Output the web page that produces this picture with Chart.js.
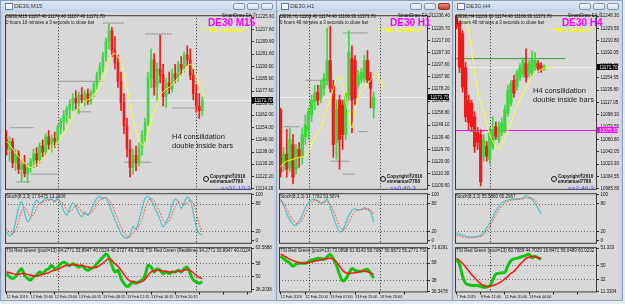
<!DOCTYPE html>
<html lang="en">
<head>
<meta charset="UTF-8" />
<title>DE30 M15 / H1 / H4</title>
<script src="https://cdn.jsdelivr.net/npm/chart.js"></script>
<style>
  body { margin:0; width:625px; height:304px; position:relative; overflow:hidden; background:#e6ecf4; font-family:'Liberation Sans', Arial, sans-serif; }
  .win { position:absolute; top:0; height:301px; background:#c4d3e6; border:1px solid #8fa0b8; box-sizing:border-box; }
  .bar { position:absolute; left:0; right:0; top:0; height:11px; background:linear-gradient(#dfe9f5,#c2d3e8); }
  .ico { position:absolute; left:4px; top:2px; width:6px; height:5px; border:1px solid #5a7cad; background:#f4f8fc; }
  .cap { position:absolute; left:13px; top:2px; font-size:6px; color:#3a3a3a; }
  .btn { position:absolute; top:2px; width:12px; height:7px; border:1px solid #8293aa; border-radius:2px; background:linear-gradient(#f6f8fb,#d3dce8); box-sizing:border-box; }
  .btn.x { background:linear-gradient(#eb8f7f,#c63f2b); border-color:#8a3a2e; }
  .client { position:absolute; top:12px; height:288px; background:#d8d8d8; }
  canvas { position:absolute; }
  .t { position:absolute; white-space:nowrap; line-height:1; }
  .clip { position:absolute; overflow:hidden; white-space:nowrap; }
  .info { font-size:4.5px; color:#111; }
  .big { font-size:10px; font-weight:bold; color:#ff00ff; }
  .yel { font-size:5.5px; font-weight:bold; color:#ffff00; }
  .note { font-size:7.5px; color:#1c1c1c; }
  .copy { font-size:4.6px; font-weight:bold; color:#111; }
  .timer { font-size:6px; color:#3c3cff; letter-spacing:0.3px; }
  .circ { position:absolute; width:6px; height:6px; border:1px solid #111; border-radius:50%; box-sizing:border-box; }
</style>
</head>
<body>
  <!-- window frames -->
  <div class="win" style="left:0;width:277px">
    <div class="bar"><div class="ico"></div><div class="cap">DE30,M15</div>
      <div class="btn" style="left:232px"></div><div class="btn" style="left:246px"></div><div class="btn" style="left:260px"></div></div>
  </div>
  <div class="win" style="left:276px;width:177px">
    <div class="bar"><div class="ico"></div><div class="cap">DE30,H1</div>
      <div class="btn" style="left:133px"></div><div class="btn" style="left:147px"></div><div class="btn x" style="left:161px"></div></div>
  </div>
  <div class="win" style="left:452px;width:171px">
    <div class="bar"><div class="ico"></div><div class="cap">DE30,H4</div>
      <div class="btn" style="left:126px"></div><div class="btn" style="left:140px"></div><div class="btn" style="left:154px"></div></div>
  </div>
  <div class="client" style="left:3px;width:271px"></div>
  <div class="client" style="left:278px;width:173px"></div>
  <div class="client" style="left:454px;width:166px"></div>

  <canvas id="m15Price" width="270" height="183" style="left:4px;top:11px"></canvas>
  <canvas id="m15Stoch" width="270" height="59" style="left:4px;top:189px"></canvas>
  <canvas id="m15Tsi" width="270" height="57" style="left:4px;top:243px"></canvas>
  <canvas id="h1Price" width="172" height="183" style="left:278px;top:11px"></canvas>
  <canvas id="h1Stoch" width="172" height="59" style="left:278px;top:189px"></canvas>
  <canvas id="h1Tsi" width="172" height="57" style="left:278px;top:243px"></canvas>
  <canvas id="h4Price" width="165" height="183" style="left:454px;top:11px"></canvas>
  <canvas id="h4Stoch" width="165" height="59" style="left:454px;top:189px"></canvas>
  <canvas id="h4Tsi" width="165" height="57" style="left:454px;top:243px"></canvas>

  <!-- M15 texts -->
  <div class="clip info" style="left:6px;top:14px;width:200px">DE30,M15  11167.40 11174.40 11167.40 11171.70</div>
  <div class="clip info" style="left:6px;top:19.5px;width:200px">0 hours 10 minutes a 3 seconds to close bar</div>
  <div class="t info" style="left:222px;top:14px">SmartDraw EA ©</div>
  <div class="t big" style="left:208px;top:18px">DE30 M15</div>
  <div class="t yel" style="left:202px;top:28px">* TMS S Method *</div>
  <div class="t note" style="left:172px;top:133px">H4 consilidation</div>
  <div class="t note" style="left:172px;top:141.5px">double inside bars</div>
  <div class="circ" style="left:203px;top:176px"></div>
  <div class="t copy" style="left:210px;top:175px">Copyright®2016</div>
  <div class="t copy" style="left:210px;top:180px">emmanuel7788</div>
  <div class="t timer" style="left:221px;top:185px">&gt;&gt;01:10:3</div>
  <div class="clip info" style="left:6px;top:193.5px;width:240px">Stoch(8,3,3) 17.6475 13.2306</div>
  <div class="clip info" style="left:6px;top:247.5px;width:245px">TSI Red Green (pool=13) 34.2771 33.8947 40.0124 40.2727 49.7330  TSI Red Green (Realtime) 34.2771 33.8947 40.0124 42.0382 48.2917</div>

  <!-- H1 texts -->
  <div class="clip info" style="left:280px;top:14px;width:140px">DE30,H1  11169.40 11174.40 11169.30 11171.70</div>
  <div class="clip info" style="left:280px;top:19.5px;width:140px">0 hours 40 minutes a 3 seconds to close bar</div>
  <div class="t info" style="left:398px;top:14px">SmartDraw EA ©</div>
  <div class="t big" style="left:390px;top:18px">DE30 H1</div>
  <div class="t yel" style="left:378px;top:28px">* TMS S Method *</div>
  <div class="circ" style="left:380px;top:176px"></div>
  <div class="t copy" style="left:387px;top:175px">Copyright®2016</div>
  <div class="t copy" style="left:387px;top:180px">emmanuel7788</div>
  <div class="t timer" style="left:390px;top:185px">&gt;&gt;0:40:3</div>
  <div class="clip info" style="left:280px;top:193.5px;width:145px">Stoch(8,3,3) 37.7783 53.5874</div>
  <div class="clip info" style="left:280px;top:247.5px;width:147px">TSI Red Green (pool=13) 73.0898 61.9143 58.7087 50.0873 56.2771  TSI Red Green (Realtime)</div>

  <!-- H4 texts -->
  <div class="clip info" style="left:456px;top:14px;width:120px">DE30,H4  11169.30 11174.40 11169.30 11171.70</div>
  <div class="clip info" style="left:456px;top:19.5px;width:120px">3 hours 40 minutes a 3 seconds to close bar</div>
  <div class="t info" style="left:568px;top:14px">SmartDraw EA ©</div>
  <div class="t big" style="left:562px;top:18px">DE30 H4</div>
  <div class="t yel" style="left:548px;top:28px">* TMS S Method *</div>
  <div class="t note" style="left:533px;top:87px">H4 consilidation</div>
  <div class="t note" style="left:533px;top:95.5px">double inside bars</div>
  <div class="circ" style="left:551px;top:176px"></div>
  <div class="t copy" style="left:558px;top:175px">Copyright®2016</div>
  <div class="t copy" style="left:558px;top:180px">emmanuel7788</div>
  <div class="t timer" style="left:568px;top:185px">&gt;&gt;2:40:3</div>
  <div class="clip info" style="left:456px;top:193.5px;width:140px">Stoch(8,3,3) 55.5860 60.2967</div>
  <div class="clip info" style="left:456px;top:247.5px;width:140px">TSI Red Green (pool=13) 60.7089 44.7029 19.8471 56.0489 60.0232  TSI Red Green (Re</div>

<script>
  // ---------- DE30 M15 ----------
  const m15Slots = 82;
  const m15Open  = [11146,11140,11145,11131,11137,11127,11130,11124,11128,11132,11137,11133,11142,11138,11148,11143,11147,11145,11154,11158,11162,11166,11169,11173,11170,11175,11172,11176,11171,11177,11182,11188,11193,11200,11210,11217,11204,11196,11184,11170,11155,11140,11128,11136,11131,11141,11149,11157,11186,11198,11180,11192,11188,11174,11183,11179,11189,11186,11195,11192,11201,11198,11188,11176,11168,11165];
  const m15High  = [11152,11148,11147,11140,11139,11133,11136,11131,11134,11140,11141,11144,11146,11150,11152,11149,11151,11156,11160,11165,11168,11172,11176,11178,11177,11180,11178,11179,11178,11184,11190,11196,11203,11212,11221,11219,11213,11201,11190,11176,11160,11146,11140,11142,11144,11152,11160,11190,11205,11202,11196,11214,11195,11186,11190,11192,11195,11197,11200,11203,11207,11205,11192,11182,11176,11174];
  const m15Low   = [11136,11132,11128,11126,11124,11119,11122,11118,11125,11128,11129,11131,11135,11136,11140,11138,11141,11143,11150,11152,11157,11160,11165,11166,11163,11170,11168,11169,11169,11174,11179,11185,11190,11197,11205,11200,11192,11180,11165,11150,11135,11122,11124,11126,11129,11136,11145,11155,11180,11175,11171,11183,11168,11167,11176,11177,11183,11184,11188,11190,11194,11185,11172,11164,11160,11162];
  const m15Close = [11140,11145,11131,11137,11127,11130,11124,11128,11132,11137,11133,11142,11138,11148,11143,11147,11145,11154,11158,11162,11166,11169,11173,11170,11175,11172,11176,11171,11177,11182,11188,11193,11200,11210,11217,11204,11196,11184,11170,11155,11140,11128,11136,11131,11141,11149,11157,11186,11198,11180,11192,11188,11174,11183,11179,11189,11186,11195,11192,11201,11198,11188,11176,11168,11165,11171.7];
  const m15Ma    = [11145,11143,11140,11138,11135,11133,11131,11129,11128,11129,11130,11132,11134,11136,11138,11140,11142,11144,11147,11150,11153,11157,11161,11164,11167,11169,11171,11172,11173,11175,11178,11182,11186,11191,11197,11201,11202,11200,11196,11189,11180,11169,11160,11152,11146,11143,11143,11150,11158,11164,11170,11175,11177,11179,11180,11182,11184,11186,11188,11191,11194,11195,11193,11188,11182,11177,11174];
  const m15StochMain   = [20,10,15,40,70,85,60,42,50,75,88,80,85,92,88,90,84,92,80,65,55,70,82,75,60,52,62,55,65,80,92,96,90,94,80,62,45,30,15,8,5,12,30,25,45,70,92,96,88,75,60,45,30,40,55,78,90,85,70,82,95,88,60,30,15,12];
  const m15StochSignal = [25,18,15,22,42,65,72,62,51,56,71,81,84,86,88,90,87,89,85,79,67,63,69,76,72,62,58,56,61,67,79,89,93,93,88,79,62,46,30,18,9,8,16,22,33,47,69,86,92,86,74,60,45,38,42,58,74,84,82,79,82,88,81,59,35,19];
  const m15TsiGreen = [48,46,45,46,49,51,47,45,44,46,47,49,48,50,51,53,51,52,54,55,54,53,54,53,52,53,51,50,51,52,54,56,58,60,58,53,49,50,45,42,40,41,43,42,43,44,47,53,52,49,51,50,48,49,48,49,49,50,49,51,52,48,44,43,42,43];
  const m15TsiRed   = [49,48.5,48,47.5,47.5,48,48,47.5,47,46.5,46.5,47,47.5,48,48.5,49.5,50,50.5,51.5,52.5,53,53,53.5,53.5,53,53,52.5,52,51.5,51.5,52,53,54.5,56,57,56,54,52.5,50,47.5,45,43.5,43,42.5,42.5,43,44.5,47,49,49.5,50,50,49.5,49.5,49,49,49,49.5,49.5,50,50.5,50,48.5,47,45.5,45];
  const m15PriceTicks = [11225.60,11217.60,11209.60,11201.60,11193.60,11185.60,11177.60,11169.60,11162.00,11154.00,11146.00,11138.00,11130.20,11122.20,11114.20];
  const m15TsiTicks = [63.59,54.3,46.3,38.2];
  const m15TsiText  = ['63.5888','58','50','38.2038'];
  const m15Times = ['12 Feb 2019','12 Feb 19:00','12 Feb 23:00','13 Feb 04:15','13 Feb 08:15','13 Feb 12:15','13 Feb 16:15','13 Feb 20:15'];
  const m15Separators = [17.2, 62.8];
  // previous high / low segments: [price, from slot, to slot]
  const m15Levels = [[11221.8,32,39],[11214.7,46,55],[11184.0,17,32],[11166.7,55,63],[11164.2,23,28],[11153.9,1,9],[11131.5,39,48],[11123.8,8,17],[11118.7,3,8]];

  // ---------- DE30 H1 ----------
  const h1Slots = 48;
  const h1Open  = [11161.4,11117.9,11125.8,11115.5,11133.7,11113.9,11129.8,11124.2,11140.0,11145.6,11157.4,11167.7,11175.6,11170.8,11178.7,11185.1,11200.9,11181.1,11135.3,11169.2,11165.3,11141.6,11173.2,11202.4,11200.9,11181.1,11185.1,11186.6,11200.9,11186.6,11162.9];
  const h1High  = [11162.9,11131.3,11145.6,11147.1,11141.6,11133.7,11135.3,11147.1,11157.4,11162.9,11173.2,11181.1,11181.1,11185.1,11190.6,11226.9,11228.5,11185.1,11169.2,11173.2,11169.2,11174.8,11224.6,11212.7,11204.8,11193.0,11194.5,11204.8,11208.8,11191.4,11175.6];
  const h1Low   = [11107.6,11112.4,11107.6,11112.4,11102.1,11110.0,11115.5,11117.9,11133.7,11137.7,11151.9,11161.4,11165.3,11166.9,11173.2,11181.1,11175.6,11123.4,11121.9,11113.9,11129.8,11137.7,11169.2,11143.2,11165.3,11178.7,11182.7,11183.5,11182.7,11162.9,11155.0];
  const h1Close = [11111.6,11125.8,11113.9,11137.7,11107.6,11129.8,11123.4,11141.6,11149.5,11159.8,11169.2,11174.8,11169.2,11181.1,11186.6,11200.9,11178.7,11133.7,11161.4,11137.7,11141.6,11173.2,11207.2,11169.2,11170.8,11189.0,11191.4,11200.9,11185.1,11178.7,11171.7];
  const h1Ma    = [11115.5,11118.7,11120.3,11121.1,11121.9,11122.6,11123.4,11123.8,11124.2,11128.2,11133.7,11139.2,11144.0,11147.1,11155.0,11162.9,11169.2,11178.7,11186.6,11188.2,11181.1,11169.2,11157.4,11147.1,11161.4,11170.8,11176.4,11179.5,11182.7,11185.1,11188.2,11190.6,11185.1,11178.7];
  const h1StochMain   = [90,78,58,45,36,33,42,55,72,82,88,90,85,80,84,90,72,52,33,19,22,38,55,66,69,66,68,71,68,62,40];
  const h1StochSignal = [85,82,70,55,45,38,37,45,58,72,82,87,87,84,83,85,80,65,48,32,23,27,40,54,63,67,67,68,69,67,57];
  const h1TsiGreen = [65.1,63,61,59.3,56.9,58.5,59.3,59.3,59.3,60.5,62,62.6,63.4,63,62.6,64.5,66.5,63,58,50,45,46.5,51,55,53.5,52.8,52.8,53.8,54.4,51.5,47];
  const h1TsiRed   = [66.7,65.5,64,62.6,61.5,60.5,59.8,59.3,59.3,59.8,60.5,61,61.6,62,62.5,63,63.4,62.5,60.5,57,53.5,51.5,51,51.3,51.5,52,52.8,52.8,52.3,51.5,50.3];
  const h1PriceTicks = [11236.4,11226.7,11217.0,11207.3,11197.6,11187.9,11178.2,11168.5,11158.8,11149.1,11139.4,11129.7,11120.0,11110.3,11100.6];
  const h1TsiTicks = [71.63,59.3,45.4,36.35];
  const h1TsiText  = ['71.6291','58','38','36.3478'];
  const h1Times = ['12 Feb 2019','12 Feb 23:00','13 Feb 07:00','13 Feb 15:00','13 Feb 23:00'];
  const h1Separators = [9.2, 31.9];
  const h1Levels = [[11223.0,20,28],[11185.1,8,16],[11147.9,1,6],[11144.0,25,28],[11120.3,16,22],[11115.5,2,6],[11110.0,20,24]];

  // ---------- DE30 H4 ----------
  const h4Slots = 47;
  const h4Open  = [11245.3,11237.8,11221.3,11170.3,11120.8,11116.3,11095.3,11071.3,11068.3,11035.3,11050.3,11030.8,11050.3,11080.3,11060.8,11071.3,11075.8,11101.3,11116.3,11150.8,11140.3,11155.3,11161.3,11176.3,11161.3,11162.8,11170.3,11176.3,11173.3,11167.3];
  const h4High  = [11248.3,11240.8,11225.8,11177.8,11128.3,11120.8,11102.8,11078.8,11075.8,11068.3,11057.8,11078.8,11095.3,11087.8,11087.8,11093.8,11113.3,11143.3,11150.8,11158.3,11165.8,11176.3,11185.3,11198.8,11180.8,11195.8,11192.8,11180.8,11177.8,11174.8];
  const h4Low   = [11228.8,11162.8,11132.8,11087.8,11075.8,11072.8,11041.3,11045.8,10990.3,11027.8,11027.8,11023.3,11045.8,11060.8,11056.3,11066.8,11071.3,11096.8,11111.8,11125.3,11135.8,11150.8,11156.8,11147.8,11156.8,11158.3,11165.8,11162.8,11162.8,11165.8];
  const h4Close = [11233.3,11170.3,11140.3,11095.3,11086.3,11080.3,11050.3,11056.3,10996.3,11060.8,11035.3,11071.3,11075.8,11065.3,11080.3,11086.3,11105.8,11135.8,11146.3,11131.3,11161.3,11170.3,11180.8,11155.3,11176.3,11183.8,11180.8,11168.8,11167.3,11171.7];
  const h4Ma    = [null,null,null,11243.8,11225.8,11195.8,11162.8,11135.8,11116.3,11102.8,11084.8,11068.3,11057.8,11050.3,11045.8,11053.3,11060.8,11074.3,11086.3,11098.3,11110.3,11120.8,11131.3,11138.8,11147.8,11155.3,11161.3,11164.3,11167.3,11168.8,11170.3,11170.3,11170.3];
  const h4StochMain   = [17,14,12,10,8,8,8,9,11,18,28,38,50,65,74,82,86,88,90,90,90,91,92,98,94,90,80,70,58];
  const h4StochSignal = [12,10,8,7,6,6,7,8,9,12,20,30,42,55,66,75,82,85,87,89,90,90,91,93,92,92,87,80,72];
  const h4TsiGreen = [41.1,36.4,25.3,19,17.5,16.9,16.9,16.9,16.0,15.3,15.5,16.5,22,27.5,28.1,28.5,29,35,40,41.5,42,43,43.9,44.8,45.8,42.5,43.9,42.5,41.1];
  const h4TsiRed   = [42.0,40,37.4,34,30.5,27,24,21,18.5,16.9,16.0,16.2,16.9,17.8,19,20.6,23,25.3,28,29.9,33,36.4,39,42,43,43.9,43.5,42.5,42.0];
  const h4PriceTicks = [11248.30,11229.55,11210.80,11192.05,11173.30,11154.55,11135.80,11117.05,11098.30,11079.55,11060.80,11042.05,11023.30,11004.55,10985.80];
  const h4TsiTicks = [51.33,35.5,22.5,11.33];
  const h4TsiText  = ['51.333','50','32','11.3304'];
  const h4Times = ['7 Feb 2019','8 Feb 12:00','11 Feb 20:00','13 Feb 04:00'];
  const h4Separators = [11];
  const h4Levels = [[11183.8,0,36,'#3c9c3c']];
  const h4Magenta = 11075.8;

  const stochTicks = [100,80,20,0];
  const stochLevels = [80,20];

  // ---------- drawing ----------
  const FONT = "'Liberation Sans', Arial, sans-serif";
  const BULL = '#3ed83e', BEAR = '#f01a1a';
  const AXIS_W = 22;

  function panelPlugin(extra) {
    return {
      id: 'panel',
      beforeDatasetsDraw(chart) {
        const { ctx, chartArea: a, scales: { x, y } } = chart;
        ctx.save();
        ctx.beginPath(); ctx.rect(a.left, a.top, a.width, a.height); ctx.clip();
        ctx.lineWidth = 1;
        (extra.hlines || []).forEach(h => {
          const py = Math.round(y.getPixelForValue(h.value)) + 0.5;
          ctx.strokeStyle = h.color; ctx.setLineDash(h.dash || []);
          ctx.beginPath(); ctx.moveTo(a.left, py); ctx.lineTo(a.right, py); ctx.stroke();
        });
        ctx.strokeStyle = '#262626'; ctx.setLineDash([1, 2]);
        (extra.separators || []).forEach(s => {
          const px = Math.round(x.getPixelForValue(s)) + 0.5;
          ctx.beginPath(); ctx.moveTo(px, a.top); ctx.lineTo(px, a.bottom); ctx.stroke();
        });
        ctx.restore();
      },
      afterDraw(chart) {
        const { ctx, chartArea: a, scales: { y } } = chart;
        ctx.save();
        ctx.strokeStyle = '#3a3a3a'; ctx.lineWidth = 1;
        ctx.strokeRect(a.left + 0.5, a.top + 0.5, a.width - 1, a.height - 1);
        (extra.tags || []).forEach(t => {
          const py = Math.round(y.getPixelForValue(t.value));
          ctx.fillStyle = t.bg; ctx.fillRect(a.right, py - 3, chart.width - a.right - 1, 6);
          ctx.fillStyle = t.fg; ctx.font = '4.5px ' + FONT; ctx.textBaseline = 'middle';
          ctx.fillText(t.value.toFixed(2), a.right + 2.5, py + 0.3);
        });
        ctx.restore();
      }
    };
  }

  function yAxis(min, max, ticks, text) {
    return {
      position: 'right', min, max,
      afterBuildTicks: ax => { ax.ticks = ticks.map(v => ({ value: v })); },
      afterFit: ax => { ax.width = AXIS_W; },
      ticks: { autoSkip: false, font: { size: 4.5, family: FONT }, color: '#111', padding: 1.5,
               callback: (v, i) => text ? text[i] : v.toFixed(2) },
      grid: { drawOnChartArea: false, drawTicks: true, tickLength: 2, tickColor: '#333' },
      border: { display: false }
    };
  }

  function xAxis(slots, times, step) {
    if (!times) return { type: 'category', offset: true, display: false };
    return {
      type: 'category', offset: true,
      grid: { drawOnChartArea: false, offset: false, tickLength: 2,
              tickColor: c => (c.index % step === 0 ? '#222' : 'rgba(0,0,0,0)') },
      border: { display: false },
      ticks: { autoSkip: false, maxRotation: 0, align: 'start', padding: 0.5, color: '#111',
               font: { size: 3.8, family: FONT },
               callback: (v, i) => (i % step === 0 && times[i / step]) ? times[i / step] : '' }
    };
  }

  function baseOptions(x, y, bottomPad) {
    return {
      responsive: false, animation: false, devicePixelRatio: 1,
      layout: { padding: { left: 1, right: 0, top: 3, bottom: bottomPad } },
      plugins: { legend: { display: false }, tooltip: { enabled: false } },
      scales: { x, y }
    };
  }

  function slotLabels(n) { return Array.from({ length: n }, (_, i) => i); }

  function priceChart(id, w) {
    const colors = w.close.map((c, i) => (c >= w.open[i] ? BULL : BEAR));
    const datasets = [
      { type: 'line', data: w.ma, borderColor: '#ffff30', borderWidth: 1, pointRadius: 0, tension: 0.35, order: 0 },
      { data: w.open.map((o, i) => [o, w.close[i]]), backgroundColor: colors, barThickness: w.body, grouped: false, order: 1 },
      { data: w.low.map((l, i) => [l, w.high[i]]), backgroundColor: colors, barThickness: 1, grouped: false, order: 2 }
    ];
    w.levels.forEach(([p, a, b, col]) => datasets.push({
      type: 'line', data: [{ x: a, y: p }, { x: b, y: p }], borderColor: col || '#9c9c9c',
      borderWidth: 1, pointRadius: 0, order: 3
    }));
    const last = w.close[w.close.length - 1];
    const hlines = [{ value: last, color: 'rgba(240,240,246,0.9)' }].concat(w.hlines || []);
    const tags = (w.tags || []).concat([{ value: last, bg: '#000', fg: '#fff' }]);
    new Chart(document.getElementById(id), {
      type: 'bar',
      data: { labels: slotLabels(w.slots), datasets },
      options: baseOptions(xAxis(w.slots), yAxis(w.min, w.max, w.ticks), 3),
      plugins: [panelPlugin({ separators: w.separators, hlines, tags })]
    });
  }

  function stochChart(id, w) {
    new Chart(document.getElementById(id), {
      type: 'line',
      data: { labels: slotLabels(w.slots), datasets: [
        { data: w.signal, borderColor: '#ff4040', borderWidth: 1, borderDash: [1.5, 1.5], pointRadius: 0, tension: 0.3 },
        { data: w.main, borderColor: '#52c2c6', borderWidth: 1.2, pointRadius: 0, tension: 0.3 }
      ] },
      options: baseOptions(xAxis(w.slots), yAxis(-7, 103, stochTicks, stochTicks.map(String)), 3),
      plugins: [panelPlugin({ separators: w.separators,
        hlines: stochLevels.map(v => ({ value: v, color: '#6a6a6a', dash: [1, 2] })) })]
    });
  }

  function tsiChart(id, w) {
    new Chart(document.getElementById(id), {
      type: 'line',
      data: { labels: slotLabels(w.slots), datasets: [
        { data: w.red, borderColor: '#ff1414', borderWidth: 1.5, pointRadius: 0, tension: 0.3, order: 0 },
        { data: w.green, borderColor: '#12c412', borderWidth: 3, pointRadius: 0, tension: 0.3, order: 1 }
      ] },
      options: baseOptions(xAxis(w.slots, w.times, 8), yAxis(w.min, w.max, w.ticks, w.text), 0),
      plugins: [panelPlugin({ separators: w.separators,
        hlines: w.ticks.slice(1, 3).map(v => ({ value: v, color: '#6a6a6a', dash: [1, 2] })) })]
    });
  }

  // M15
  priceChart('m15Price', { slots: m15Slots, open: m15Open, high: m15High, low: m15Low, close: m15Close, ma: m15Ma,
    body: 2, min: 11113.6, max: 11226.9, ticks: m15PriceTicks, separators: m15Separators, levels: m15Levels });
  stochChart('m15Stoch', { slots: m15Slots, main: m15StochMain, signal: m15StochSignal, separators: m15Separators });
  tsiChart('m15Tsi', { slots: m15Slots, green: m15TsiGreen, red: m15TsiRed, min: 36.4, max: 64.2,
    ticks: m15TsiTicks, text: m15TsiText, times: m15Times, separators: m15Separators });

  // H1
  priceChart('h1Price', { slots: h1Slots, open: h1Open, high: h1High, low: h1Low, close: h1Close, ma: h1Ma,
    body: 2.6, min: 11097.4, max: 11237.2, ticks: h1PriceTicks, separators: h1Separators, levels: h1Levels });
  stochChart('h1Stoch', { slots: h1Slots, main: h1StochMain, signal: h1StochSignal, separators: h1Separators });
  tsiChart('h1Tsi', { slots: h1Slots, green: h1TsiGreen, red: h1TsiRed, min: 35.5, max: 72.4,
    ticks: h1TsiTicks, text: h1TsiText, times: h1Times, separators: h1Separators });

  // H4
  priceChart('h4Price', { slots: h4Slots, open: h4Open, high: h4High, low: h4Low, close: h4Close, ma: h4Ma,
    body: 2.6, min: 10984.3, max: 11249.8, ticks: h4PriceTicks, separators: h4Separators, levels: h4Levels,
    hlines: [{ value: h4Magenta, color: '#ff00ff' }], tags: [{ value: h4Magenta, bg: '#ff00ff', fg: '#fff' }] });
  stochChart('h4Stoch', { slots: h4Slots, main: h4StochMain, signal: h4StochSignal, separators: h4Separators });
  tsiChart('h4Tsi', { slots: h4Slots, green: h4TsiGreen, red: h4TsiRed, min: 10.4, max: 52.3,
    ticks: h4TsiTicks, text: h4TsiText, times: h4Times, separators: h4Separators });
</script>
</body>
</html>
